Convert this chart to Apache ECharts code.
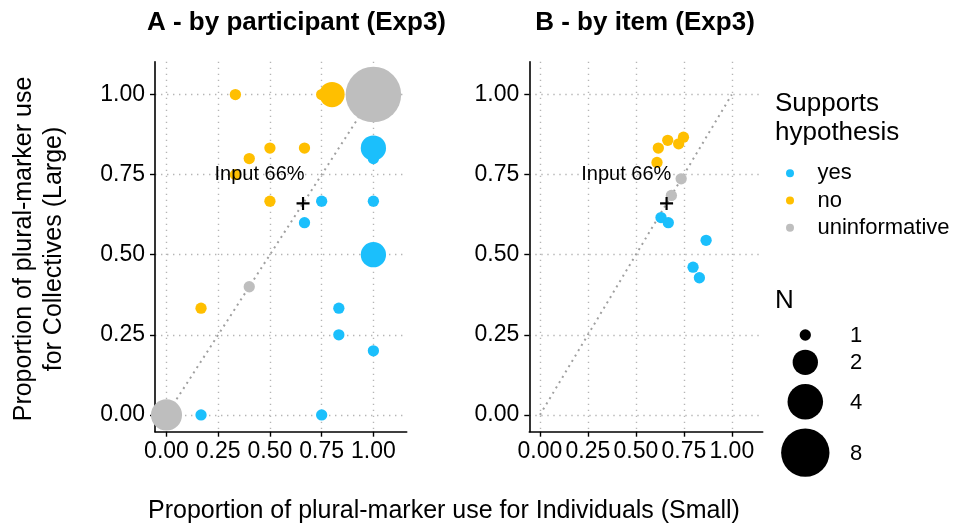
<!DOCTYPE html>
<html><head><meta charset="utf-8">
<script src="https://cdn.jsdelivr.net/npm/echarts@6/dist/echarts.min.js"></script>
<style>html,body{margin:0;padding:0;background:#fff}#c{width:956px;height:525px}</style>
</head><body><div id="c"></div>
<script>
// ---------- data ----------
const tickValues = [0, 0.25, 0.5, 0.75, 1];
const groups = ['yes', 'no', 'uninformative'];
// panel A - by participant: [x, y, N]
const A_yes = [[0.167,0,1],[0.75,0,1],[1,0.2,1],[0.833,0.25,1],[0.833,0.333,1],[1,0.5,2],[0.667,0.6,1],[0.75,0.667,1],[1,0.667,1],[1,0.8,1],[1,0.833,2]];
const A_no = [[0.333,1,1],[0.75,1,1],[0.8,1,2],[0.5,0.833,1],[0.667,0.833,1],[0.4,0.8,1],[0.333,0.75,1],[0.5,0.667,1],[0.167,0.333,1]];
const A_unin = [[0,0,3],[0.4,0.4,1],[1,1,11]];
// panel B - by item
const B_yes = [[0.631,0.616,1],[0.669,0.600,1],[0.866,0.545,1],[0.798,0.461,1],[0.831,0.428,1]];
const B_no = [[0.748,0.867,1],[0.723,0.846,1],[0.666,0.857,1],[0.617,0.833,1],[0.610,0.788,1]];
const B_unin = [[0.736,0.737,1],[0.685,0.685,1]];
const sizeBreaks = [1, 2, 4, 8];
const diagonal = [[0,0],[1,1]];
const inputPoint = [0.66, 0.66];
const inputLabelPos = [0.45, 0.75];
const inputLabel = 'Input 66%';
const panelTitles = ['A - by participant (Exp3)', 'B - by item (Exp3)'];
const xTitle = 'Proportion of plural-marker use for Individuals (Small)';
const yTitle = 'Proportion of plural-marker use\nfor Collectives (Large)';
const colorTitle = 'Supports\nhypothesis';
const sizeTitle = 'N';

// ---------- styling ----------
const FONT = 'Liberation Sans, Arial, Helvetica, sans-serif';
const colors = {yes: '#1BBFFC', no: '#FFBF00', uninformative: '#BEBEBE'};
function sizeFor(n){ return 11.3 + 14 * Math.sqrt(Math.max(0, n - 1)); }

const chart = echarts.init(document.getElementById('c'), null, {renderer: 'canvas'});

const grids = [
  {left: 155, top: 61.7, width: 251.7, height: 370},
  {left: 529.3, top: 61.7, width: 233.4, height: 370}
];
function xAxisFor(i){
  return {
    type: 'value', gridIndex: i, min: -0.0555, max: 1.161,
    axisLine: {show: true, onZero: false, lineStyle: {color: '#000', width: 1.6}},
    axisTick: {show: true, customValues: tickValues, length: 5, lineStyle: {color: '#000', width: 1.4}},
    axisLabel: {customValues: tickValues, formatter: v => v.toFixed(2), fontSize: 23, color: '#000', fontFamily: FONT, margin: 8},
    splitLine: {show: true, lineStyle: {color: '#b5b5b5', width: 1.4, type: [1.4, 4.6]}}
  };
}
function yAxisFor(i){
  return {
    type: 'value', gridIndex: i, min: -0.0525, max: 1.1025,
    axisLine: {show: true, onZero: false, lineStyle: {color: '#000', width: 1.6}},
    axisTick: {show: true, customValues: tickValues, length: 5, lineStyle: {color: '#000', width: 1.4}},
    axisLabel: {customValues: tickValues, formatter: v => v.toFixed(2), fontSize: 23, color: '#000', fontFamily: FONT, margin: 10},
    splitLine: {show: true, lineStyle: {color: '#b5b5b5', width: 1.4, type: [1.4, 4.6]}}
  };
}

const panelData = [
  {yes: A_yes, no: A_no, uninformative: A_unin},
  {yes: B_yes, no: B_no, uninformative: B_unin}
];
const series = [];
panelData.forEach((pd, i) => {
  series.push({
    type: 'line', xAxisIndex: i, yAxisIndex: i, data: diagonal, symbol: 'none', silent: true, z: 1,
    lineStyle: {color: '#a0a0a0', width: 2, type: [2, 4.2]}
  });
  groups.forEach(g => {
    series.push({
      type: 'scatter', name: g, xAxisIndex: i, yAxisIndex: i, data: pd[g], z: 2,
      symbol: 'circle', symbolSize: d => sizeFor(d[2]),
      itemStyle: {color: colors[g], opacity: 1}
    });
  });
  series.push({
    type: 'scatter', xAxisIndex: i, yAxisIndex: i, data: [inputPoint], z: 3, silent: true,
    symbol: 'path://M5,0H7V5H12V7H7V12H5V7H0V5H5Z', symbolSize: 13,
    itemStyle: {color: '#000', opacity: 1}
  });
  series.push({
    type: 'scatter', xAxisIndex: i, yAxisIndex: i, data: [inputLabelPos], z: 4, silent: true,
    symbolSize: 0, itemStyle: {opacity: 1},
    label: {show: true, position: 'inside', formatter: inputLabel, fontSize: 20, color: '#000', opacity: 1, fontFamily: FONT}
  });
});

// size legend graphics (layout computed from key sizes)
const sizeLegend = [];
let cy = 335;
sizeBreaks.forEach((n, k) => {
  if (k > 0) cy += (sizeFor(sizeBreaks[k-1]) + sizeFor(n)) / 2 + 9;
  sizeLegend.push({type: 'circle', shape: {cx: 805.3, cy: cy, r: sizeFor(n) / 2}, style: {fill: '#000'}});
  sizeLegend.push({type: 'text', x: 850, y: cy + 1, style: {text: String(n), fontSize: 22, fontFamily: FONT, fill: '#000', align: 'left', verticalAlign: 'middle'}});
});

const textEls = [
  {type: 'text', x: 296.5, y: 23, style: {text: panelTitles[0], fontSize: 26, fontWeight: 'bold', fontFamily: FONT, fill: '#000', align: 'center', verticalAlign: 'middle'}},
  {type: 'text', x: 645, y: 23, style: {text: panelTitles[1], fontSize: 26, fontWeight: 'bold', fontFamily: FONT, fill: '#000', align: 'center', verticalAlign: 'middle'}},
  {type: 'text', x: 444, y: 511, style: {text: xTitle, fontSize: 25, fontFamily: FONT, fill: '#000', align: 'center', verticalAlign: 'middle'}},
  {type: 'text', x: 39, y: 249, rotation: Math.PI / 2, style: {text: yTitle, fontSize: 25, lineHeight: 30, fontFamily: FONT, fill: '#000', align: 'center', verticalAlign: 'middle'}},
  {type: 'text', x: 775, y: 89, style: {text: colorTitle, fontSize: 26, lineHeight: 29, fontFamily: FONT, fill: '#000', align: 'left', verticalAlign: 'top'}},
  {type: 'text', x: 775, y: 301, style: {text: sizeTitle, fontSize: 26, fontFamily: FONT, fill: '#000', align: 'left', verticalAlign: 'middle'}}
];

chart.setOption({
  animation: false,
  backgroundColor: '#fff',
  textStyle: {fontFamily: FONT},
  grid: grids,
  xAxis: [xAxisFor(0), xAxisFor(1)],
  yAxis: [yAxisFor(0), yAxisFor(1)],
  legend: {
    data: groups, orient: 'vertical', left: 781, top: 157.3, icon: 'circle',
    itemWidth: 45, itemHeight: 8, itemGap: 5.2, selectedMode: false,
    textStyle: {fontSize: 22, color: '#000', fontFamily: FONT}
  },
  series: series,
  graphic: textEls.concat(sizeLegend)
});
</script></body></html>
